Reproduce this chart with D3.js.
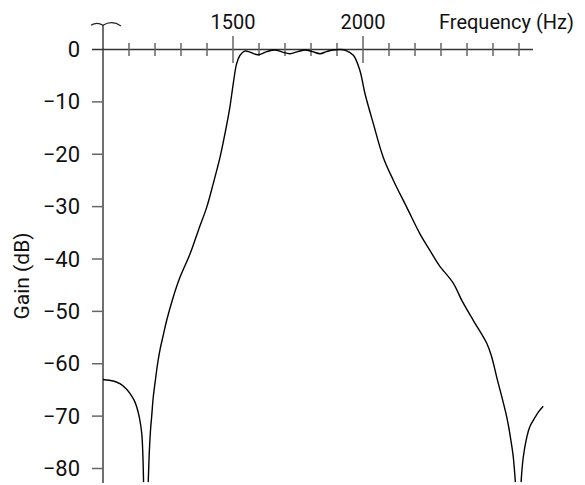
<!DOCTYPE html>
<html>
<head>
<meta charset="utf-8">
<script src="https://cdn.jsdelivr.net/npm/d3@7"></script>
<style>
body { margin: 0; background: #fff; }
text { font-family: Roboto, "Liberation Sans", Arial, sans-serif; font-size: 20px; fill: #111; }
text.ylabel { font-size: 22px; }
text.ytitle { font-size: 21px; }
</style>
</head>
<body>
<svg id="chart" width="585" height="485"></svg>
<script>
// frequency (Hz) / gain (dB), null = notch going off the bottom
var freqs = [1000, 1040, 1065, 1090, 1104, 1120, 1130, 1140, 1149, 1153, 1156,
	1165,
	1174, 1178, 1183, 1187, 1193, 1200, 1210, 1219, 1232, 1245, 1270, 1296, 1335, 1367,
	1399, 1424, 1450, 1469, 1488, 1501, 1514, 1527, 1545, 1560, 1596, 1630, 1662, 1690,
	1719, 1750, 1777, 1805, 1835, 1860, 1885, 1912, 1935, 1963, 1988, 2008, 2040, 2078,
	2117, 2168, 2219, 2258, 2293, 2347, 2380, 2424, 2476, 2495, 2514, 2553, 2570, 2578, 2586,
	2598,
	2608, 2616, 2630, 2642, 2655, 2675, 2693];
var gains = [-63, -63.3, -63.8, -64.8, -65.7, -67, -68.3, -70.3, -73.3, -77, -82.6,
	null,
	-82.6, -77, -72.5, -70.2, -66.5, -63.7, -60, -57.4, -54.5, -51.7, -47.3, -43.5, -39, -34.5,
	-30.1, -25.6, -20.6, -16.1, -11, -6.5, -2.7, -1.1, -0.3, -0.4, -1.0, -0.4, -0.1, -0.5,
	-0.8, -0.4, -0.1, -0.4, -0.8, -0.4, -0.1, 0, -0.2, -1.1, -4, -8.5, -14.2, -20.6,
	-25, -30.1, -35.2, -38.4, -41.2, -44.6, -47.9, -51.7, -56.1, -58.7, -62.5, -70.2, -75, -77.8, -82.6,
	null,
	-82.6, -78, -74, -72, -70.8, -69.2, -68.1];

var yTicks = [0, -10, -20, -30, -40, -50, -60, -70, -80];
var xMinorTicks = [1100, 1200, 1300, 1400, 1600, 1700, 1800, 1900, 2100, 2200, 2300, 2400, 2500, 2600];
var xMajorTicks = [1500, 2000];
var xAxisTitle = "Frequency (Hz)";
var yAxisTitle = "Gain (dB)";

var svg = d3.select("#chart");

var xScale = d3.scaleLinear().domain([1000, 2000]).range([103, 363]);
var yScale = d3.scaleLinear().domain([0, -80]).range([49.5, 468.5]);

var x0 = xScale(1000);
var y0 = yScale(0);

var data = [];
for(var i = 0; i < freqs.length; i++)
{
	data.push({f: freqs[i], g: gains[i]});
}

// axis lines
svg.append("line")
	.attr("x1", x0 - 11).attr("x2", 533)
	.attr("y1", y0).attr("y2", y0)
	.attr("stroke", "#333").attr("stroke-width", 1.4);
svg.append("line")
	.attr("x1", x0).attr("x2", x0)
	.attr("y1", 25).attr("y2", 483)
	.attr("stroke", "#333").attr("stroke-width", 1.4);

// break mark on top of the gain axis
svg.append("path")
	.attr("d", "M" + (x0 - 12) + ",25.3 Q" + (x0 - 6) + ",21.3 " + x0 + ",25.3"
		+ " Q" + (x0 + 9) + ",19.8 " + (x0 + 18) + ",26")
	.attr("fill", "none")
	.attr("stroke", "#222").attr("stroke-width", 1.2);

// x ticks
svg.selectAll("line.minor")
	.data(xMinorTicks).enter()
	.append("line")
	.attr("class", "minor")
	.attr("x1", function(d){ return xScale(d); })
	.attr("x2", function(d){ return xScale(d); })
	.attr("y1", y0 - 6.5).attr("y2", y0 + 6.5)
	.attr("stroke", "#666").attr("stroke-width", 1.5);
svg.selectAll("line.major")
	.data(xMajorTicks).enter()
	.append("line")
	.attr("class", "major")
	.attr("x1", function(d){ return xScale(d); })
	.attr("x2", function(d){ return xScale(d); })
	.attr("y1", y0 - 13.5).attr("y2", y0 + 13.5)
	.attr("stroke", "#666").attr("stroke-width", 1.5);
svg.selectAll("text.xlabel")
	.data(xMajorTicks).enter()
	.append("text")
	.attr("class", "xlabel")
	.attr("x", function(d){ return xScale(d); })
	.attr("y", 28.5)
	.attr("text-anchor", "middle")
	.text(function(d){ return d; });
svg.append("text")
	.attr("x", 439)
	.attr("y", 28.5)
	.text(xAxisTitle);

// y ticks
svg.selectAll("line.ytick")
	.data(yTicks.filter(function(d){ return d !== 0; })).enter()
	.append("line")
	.attr("class", "ytick")
	.attr("x1", x0 - 11).attr("x2", x0)
	.attr("y1", function(d){ return yScale(d); })
	.attr("y2", function(d){ return yScale(d); })
	.attr("stroke", "#666").attr("stroke-width", 1.5);
svg.selectAll("text.ylabel")
	.data(yTicks).enter()
	.append("text")
	.attr("class", "ylabel")
	.attr("x", 80)
	.attr("y", function(d){ return yScale(d) + 7.5; })
	.attr("text-anchor", "end")
	.text(function(d){ return d === 0 ? "0" : "\u2212" + Math.abs(d); });
svg.append("text")
	.attr("class", "ytitle")
	.attr("transform", "translate(28.5,276) rotate(-90)")
	.attr("text-anchor", "middle")
	.text(yAxisTitle);

// response curve
var line = d3.line()
	.defined(function(d){ return d.g !== null; })
	.x(function(d){ return xScale(d.f); })
	.y(function(d){ return yScale(d.g); })
	.curve(d3.curveCatmullRom.alpha(0.5));

svg.append("path")
	.datum(data)
	.attr("d", line)
	.attr("fill", "none")
	.attr("stroke", "#000")
	.attr("stroke-width", 1.4);
</script>
</body>
</html>
